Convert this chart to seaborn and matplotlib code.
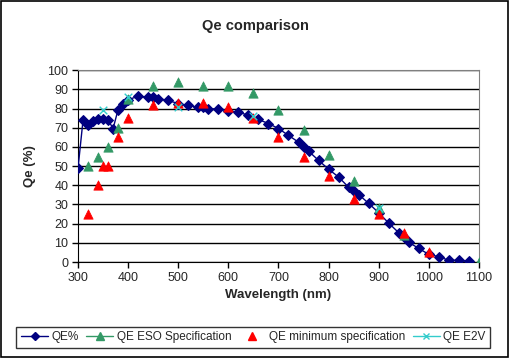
import numpy as np
import pandas as pd
import seaborn as sns
import matplotlib.pyplot as plt
from matplotlib.lines import Line2D
from matplotlib.patches import Rectangle

# QE% measured curve
wl_qe = [300, 310, 320, 330, 340, 350, 360, 370, 380, 390, 400, 420, 440, 450, 460,
         480, 500, 520, 540, 550, 560, 580, 600, 620, 640, 660, 680, 700, 720, 740,
         750, 760, 780, 800, 820, 840, 850, 860, 880, 900, 920, 940, 950, 960, 980,
         1000, 1020, 1040, 1060, 1080]
qe = [49, 74, 71.5, 73.5, 74.3, 74.3, 74, 69.6, 79.5, 82.6, 84.7, 86.3, 86, 86, 85.2,
      84.2, 82.6, 81.6, 80.6, 80.6, 80, 79.7, 78.8, 78, 76.6, 74.3, 72.2, 69.6, 66, 62.5,
      59.7, 57.8, 53, 48.4, 44.3, 39, 37, 35.2, 30.6, 25.7, 20.3, 15.3, 13.2, 10.3, 7.1,
      4, 2.8, 0.9, 0.9, 0.5]

# ESO specification
wl_eso = [320, 340, 360, 380, 400, 450, 500, 550, 600, 650, 700, 750, 800, 850, 900, 950, 1100]
eso = [50, 55, 60, 70, 85, 92, 94, 92, 92, 88, 79, 69, 56, 42, 28, 14, 0]

# minimum specification
wl_min = [320, 340, 350, 360, 380, 400, 450, 500, 550, 600, 650, 700, 750, 800, 850, 900, 950, 1000]
qmin = [25, 40, 50, 50, 65, 75, 82, 83, 83, 81, 75, 65, 55, 45, 33, 25, 15, 5]

# E2V
wl_e2v = [350, 400, 500, 650, 900]
e2v = [79, 86, 81, 76, 28]

navy = '#000080'
green = '#339966'
red = '#FF0000'
cyan = '#33CCCC'

sns.set_style("white")
plt.rcParams['font.family'] = ['Liberation Sans', 'DejaVu Sans']

fig = plt.figure(figsize=(5.1, 3.58), dpi=100)
ax = fig.add_axes([0.153, 0.268, 0.786, 0.536])

sns.lineplot(x=wl_qe, y=qe, ax=ax, color=navy, lw=1.0, marker='D', markersize=4.8,
             markeredgecolor=navy, zorder=3)
sns.scatterplot(x=wl_eso, y=eso, ax=ax, color=green, marker='^', s=45, edgecolor=green, zorder=4)
sns.scatterplot(x=wl_min, y=qmin, ax=ax, color=red, marker='^', s=45, edgecolor=red, zorder=5)
sns.scatterplot(x=wl_e2v, y=e2v, ax=ax, color=cyan, marker='x', s=30, linewidth=1, zorder=6)

ax.set_xlim(300, 1100)
ax.set_ylim(0, 100)
ax.set_xticks(range(300, 1101, 100))
ax.set_yticks(range(0, 101, 10))
ax.yaxis.grid(True, color='black', lw=1)
ax.set_axisbelow(True)
for s in ['left', 'bottom']:
    ax.spines[s].set_color('black')
for s in ['top', 'right']:
    ax.spines[s].set_color('#808080')
ax.tick_params(axis='both', direction='out', length=4, width=1, color='black',
               labelsize=9, pad=3, bottom=True, left=True)

ax.set_xlabel('Wavelength (nm)', fontsize=9.5, fontweight='bold', labelpad=4)
ax.set_ylabel('Qe (%)', fontsize=9.5, fontweight='bold', labelpad=8)
fig.text(0.5, 0.927, 'Qe comparison', ha='center', va='center', fontsize=10.5, fontweight='bold')

handles = [
    Line2D([], [], color=navy, marker='D', markersize=4, lw=1.0),
    Line2D([], [], color=green, marker='^', markersize=6, lw=1.0),
    Line2D([], [], color=red, marker='^', markersize=6, lw=0),
    Line2D([], [], color=cyan, marker='x', markersize=4, lw=1),
]
labels = ['QE%', 'QE ESO Specification', 'QE minimum specification', 'QE E2V']
leg = fig.legend(handles, labels, loc='center', bbox_to_anchor=(0.497, 0.058), ncol=4,
                 fontsize=8.5, frameon=True, fancybox=False, edgecolor='black',
                 handlelength=2.3, handletextpad=0.3, columnspacing=0.6,
                 borderpad=0.4, borderaxespad=0)
leg.get_frame().set_linewidth(1)

fig.patches.append(Rectangle((0.002, 0.003), 0.995, 0.994, transform=fig.transFigure,
                             fill=False, edgecolor='black', lw=1.2))

fig.savefig('out.png', dpi=100)
